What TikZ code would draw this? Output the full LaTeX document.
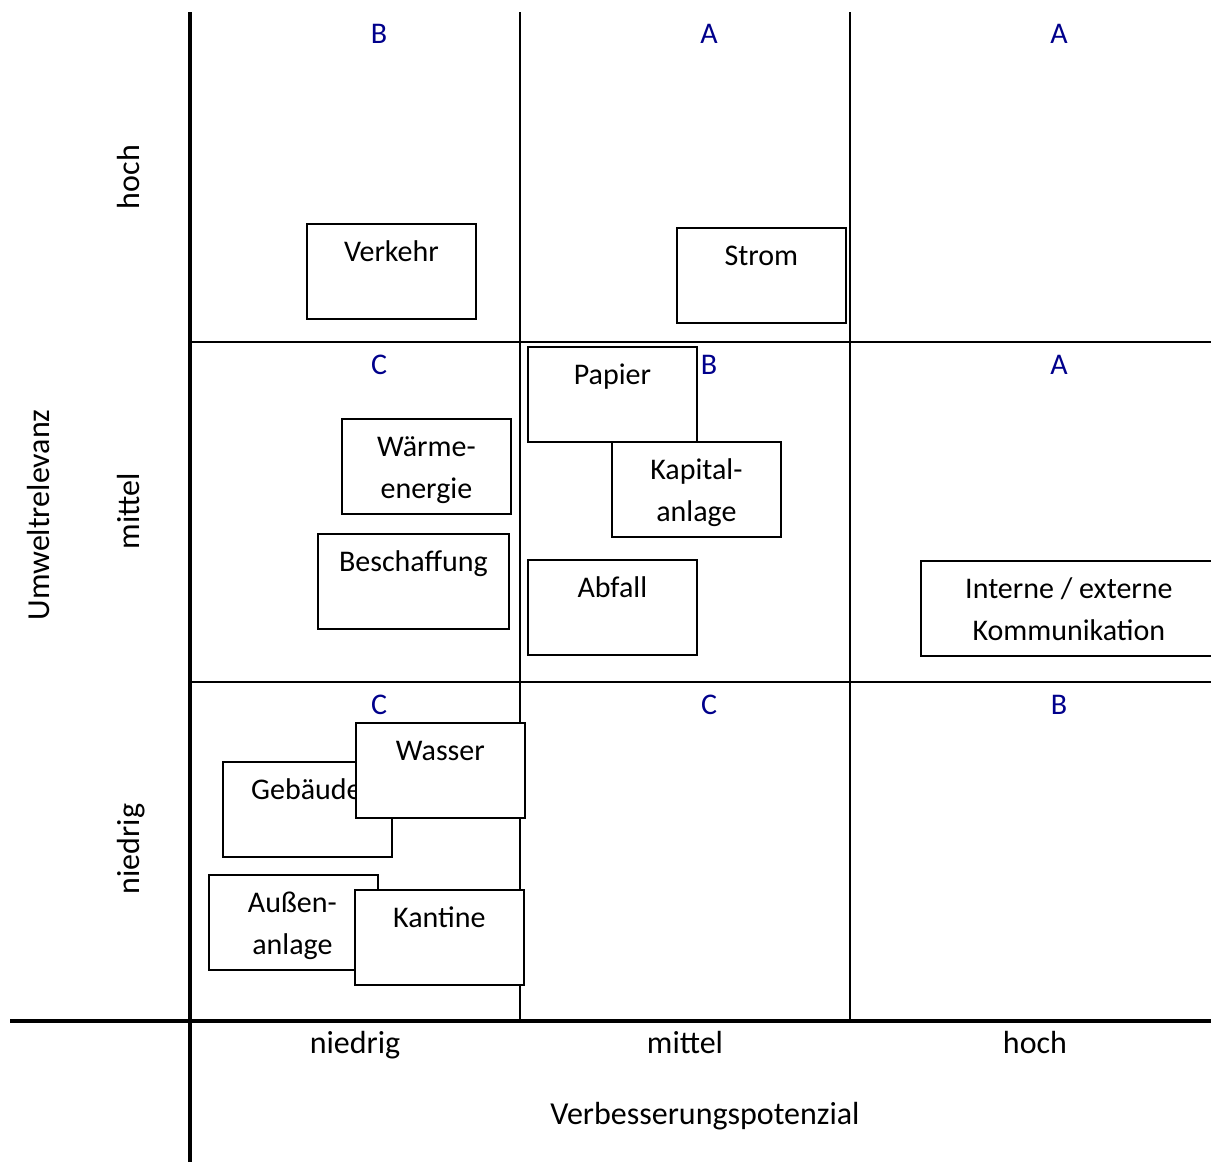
\documentclass[tikz,border=0pt]{standalone}
\usepackage{fontspec}
\setmainfont{Carlito}
\definecolor{grade}{RGB}{0,0,139}
\begin{document}
\begin{tikzpicture}[x=1pt,y=-1pt,
  axis/.style={line width=3.2pt},
  grid/.style={line width=1.9pt},
  cbox/.style={draw, line width=1.8pt, fill=white, minimum width=169pt, minimum height=95pt, inner sep=0pt, anchor=north west},
  lab/.style={anchor=base, yshift=-38pt, align=center, font=\fontsize{30}{42}\selectfont, inner sep=0pt},
  lab2/.style={lab, yshift=-42pt},
  grade/.style={anchor=base, text=grade, font=\fontsize{30}{36}\selectfont, inner sep=0pt},
  ax/.style={anchor=base, font=\fontsize{32}{38}\selectfont, inner sep=0pt}]
\useasboundingbox (0,0) rectangle (1211,1162);
% grid
\coordinate (v1t) at (520,12); \coordinate (v1b) at (520,1021);
\coordinate (v2t) at (850,12); \coordinate (v2b) at (850,1021);
\coordinate (h1l) at (190,342); \coordinate (h1r) at (1211,342);
\coordinate (h2l) at (190,682); \coordinate (h2r) at (1211,682);
\draw[grid] (v1t) -- (v1b);
\draw[grid] (v2t) -- (v2b);
\draw[grid] (h1l) -- (h1r);
\draw[grid] (h2l) -- (h2r);
\coordinate (yt) at (190,12); \coordinate (yb) at (190,1162);
\coordinate (xl) at (10,1021); \coordinate (xr) at (1211,1021);
\draw[axis] (yt) -- (yb);
\draw[axis] (xl) -- (xr);
% grades
\node[grade] (g11) at (379,43) {B};
\node[grade] (g12) at (709,43) {A};
\node[grade] (g13) at (1059,43) {A};
\node[grade] (g21) at (379,374) {C};
\node[grade] (g22) at (709,374) {B};
\node[grade] (g23) at (1059,374) {A};
\node[grade] (g31) at (379,714) {C};
\node[grade] (g32) at (709,714) {C};
\node[grade] (g33) at (1059,714) {B};
% boxes
\node[cbox, label={[lab]north:Verkehr}] (verkehr) at (306,223) {};
\node[cbox, label={[lab]north:Strom}] (strom) at (676,227) {};
\node[cbox, label={[lab]north:Papier}] (papier) at (527,346) {};
\node[cbox, label={[lab2]north:Wärme-\\energie}] (waerme) at (341,418) {};
\node[cbox, label={[lab2]north:Kapital-\\anlage}] (kapital) at (611,441) {};
\node[cbox, minimum width=191pt, label={[lab]north:Beschaffung}] (beschaffung) at (317,533) {};
\node[cbox, label={[lab]north:Abfall}] (abfall) at (527,559) {};
\node[cbox, minimum width=292pt, label={[lab2, xshift=2pt]north:Interne / externe\\Kommunikation}] (komm) at (920,560) {};
\node[cbox, label={[lab, xshift=-1pt]north:Gebäude}] (gebaeude) at (222,761) {};
\node[cbox, label={[lab]north:Wasser}] (wasser) at (355,722) {};
\node[cbox, label={[lab2, xshift=-1pt]north:Außen-\\anlage}] (aussen) at (208,874) {};
\node[cbox, label={[lab]north:Kantine}] (kantine) at (354,889) {};
% axis labels
\node[ax] (xn) at (355,1053) {niedrig};
\node[ax] (xm) at (685,1053) {mittel};
\node[ax] (xh) at (1035,1053) {hoch};
\node[ax] (xt) at (705,1124) {Verbesserungspotenzial};
\node[ax, rotate=90] (yh) at (139,177) {hoch};
\node[ax, rotate=90] (ym) at (139,511) {mittel};
\node[ax, rotate=90] (yn) at (139,849) {niedrig};
\node[ax, rotate=90] (yt2) at (49,515) {Umweltrelevanz};
\end{tikzpicture}
\end{document}
